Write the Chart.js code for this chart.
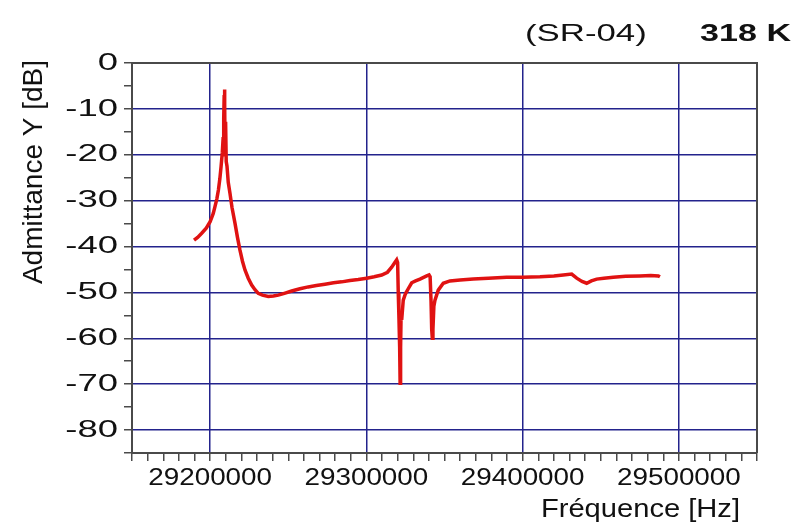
<!DOCTYPE html>
<html><head><meta charset="utf-8">
<script src="https://cdn.jsdelivr.net/npm/chart.js@4.4.1/dist/chart.umd.min.js"></script>
<style>html,body{margin:0;padding:0;background:#fff;}</style>
</head><body>
<canvas id="c" width="800" height="527"></canvas>
<script>
// ---- data ----
const frequencyHz = [
 29189700,29192000,29194600,29197500,29200000,29202000,29203100,29204300,29205300,29206200,
 29207000,29207800,29208300,29208700,29209000,29209200,29209400,29209600,29209800,29210000,
 29210300,29210800,29211600,29212700,29214000,29215900,29217500,29219100,29220700,29222300,
 29224400,29226600,29228700,29230800,29233500,29237200,29240500,29243600,29247500,29252200,
 29257500,29262800,29268000,29273500,29279000,29284200,29289500,29294800,29300200,29305000,
 29309800,29313500,29316200,29318000,29319400,29320000,29320400,29320800,29321300,29321600,
 29321900,29322200,29322600,29323600,29325000,29326800,29329000,29331500,29334300,29338600,
 29340100,29340800,29341400,29341800,29342200,29342600,29343200,29343900,29346000,29349200,
 29353500,29360000,29368400,29378000,29389800,29400000,29411100,29420000,29426000,29431400,
 29434600,29438000,29441000,29444000,29447400,29452000,29458000,29466000,29475100,29482000,
 29486800,29487900
];
const admittanceDb = [
 -38.6,-38.0,-37.1,-36.0,-34.6,-32.8,-31.3,-29.6,-27.7,-25.3,
 -22.6,-19.5,-16.5,-12.0,-7.0,-5.8,-9.0,-20.0,-13.5,-12.8,
 -21.5,-22.5,-26.0,-28.4,-31.5,-34.9,-38.0,-40.8,-43.2,-45.1,
 -46.9,-48.4,-49.4,-50.2,-50.6,-50.9,-50.8,-50.6,-50.2,-49.7,
 -49.2,-48.8,-48.5,-48.2,-47.9,-47.7,-47.4,-47.2,-46.9,-46.6,
 -46.2,-45.6,-44.5,-43.6,-42.9,-43.5,-50.0,-55.0,-62.0,-69.8,
 -62.0,-55.0,-56.0,-51.7,-50.3,-49.2,-47.9,-47.5,-47.1,-46.4,
 -46.2,-46.6,-52.0,-58.0,-60.0,-58.0,-53.0,-51.7,-49.5,-48.0,
 -47.5,-47.3,-47.1,-46.9,-46.7,-46.7,-46.6,-46.4,-46.2,-46.0,
 -46.9,-47.6,-48.0,-47.5,-47.1,-46.9,-46.7,-46.5,-46.4,-46.3,
 -46.4,-46.6
];
const xTickLabels = [29200000, 29300000, 29400000, 29500000];
const yTickLabels = [0, -10, -20, -30, -40, -50, -60, -70, -80];
const sampleLabel = '(SR-04)';
const temperatureLabel = '318 K';
const xTitle = 'Fréquence [Hz]';
const yTitle = 'Admittance Y [dB]';

// ---- styling ----
const FONT = '"Liberation Sans", Arial, sans-serif';
const GRID = '#23238c';
const AXIS = '#4a4a4a';
const LINE = '#e01212';

const points = frequencyHz.map((f, i) => ({x: f, y: admittanceDb[i]}));

// the reference lettering is drawn horizontally wide; widen tick labels around their anchor
function widenLabels(scale, sx) {
  if (scale._widened) return;
  scale._widened = true;
  const orig = scale.drawLabels;
  scale.drawLabels = function (area) {
    const ctx = this.ctx;
    const fill = ctx.fillText;
    ctx.fillText = function (t, x, y, mw) {
      this.save();
      this.translate(x, y);
      this.scale(sx, 1);
      if (mw === undefined || mw === null) fill.call(this, t, 0, 0);
      else fill.call(this, t, 0, 0, mw / sx);
      this.restore();
    };
    try { orig.call(this, area); } finally { delete ctx.fillText; }
  };
}

function wideText(ctx, text, x, y, sx) {
  ctx.save();
  ctx.translate(x, y);
  ctx.scale(sx, 1);
  ctx.fillText(text, 0, 0);
  ctx.restore();
}

const decorations = {
  id: 'decorations',
  beforeDatasetsDraw(chart) {
    const {ctx, chartArea: a} = chart;
    ctx.save();
    ctx.strokeStyle = AXIS;
    ctx.lineWidth = 2;
    ctx.beginPath();
    ctx.moveTo(a.left, a.top); ctx.lineTo(a.right, a.top); ctx.lineTo(a.right, a.bottom);
    ctx.stroke();
    ctx.restore();
  },
  afterDraw(chart) {
    const {ctx} = chart;
    ctx.save();
    ctx.fillStyle = '#111';
    ctx.textBaseline = 'middle';
    ctx.textAlign = 'left';
    ctx.font = '24px ' + FONT;
    wideText(ctx, sampleLabel, 525, 34, 1.45);
    ctx.font = 'bold 24px ' + FONT;
    ctx.textAlign = 'right';
    wideText(ctx, temperatureLabel, 791, 34, 1.42);
    // x title
    ctx.font = '26px ' + FONT;
    ctx.textAlign = 'right';
    ctx.textBaseline = 'alphabetic';
    wideText(ctx, xTitle, 740, 517, 1.12);
    // y title
    ctx.translate(34, 172);
    ctx.rotate(-Math.PI / 2);
    ctx.textAlign = 'center';
    ctx.textBaseline = 'middle';
    ctx.font = '28px ' + FONT;
    ctx.fillText(yTitle, 0, 0);
    ctx.restore();
  }
};

new Chart(document.getElementById('c'), {
  type: 'line',
  data: {
    datasets: [{
      data: points,
      borderColor: LINE,
      borderWidth: 3.5,
      pointRadius: 0,
      tension: 0,
      fill: false
    }]
  },
  options: {
    responsive: false,
    devicePixelRatio: 1,
    animation: false,
    events: [],
    layout: {padding: {top: 63, right: 43, left: 0, bottom: 0}},
    plugins: {legend: {display: false}, tooltip: {enabled: false}, title: {display: false}},
    scales: {
      x: {
        type: 'linear',
        min: 29150000,
        max: 29550000,
        afterFit: s => { s.height = 74; widenLabels(s, 1.16); },
        ticks: {
          stepSize: 10000,
          autoSkip: false,
          maxTicksLimit: 1000,
          maxRotation: 0,
          minRotation: 0,
          padding: 3,
          color: '#111',
          font: {family: FONT, size: 24},
          callback: v => xTickLabels.includes(Math.round(v)) ? String(Math.round(v)) : ''
        },
        grid: {
          color: c => (c.tick && xTickLabels.includes(Math.round(c.tick.value))) ? GRID : 'rgba(0,0,0,0)',
          lineWidth: 1.5,
          tickColor: AXIS,
          tickLength: 8,
          drawTicks: true
        },
        border: {display: true, color: AXIS, width: 2}
      },
      y: {
        type: 'linear',
        min: -85,
        max: 0,
        afterFit: s => { s.width = 132; widenLabels(s, 1.52); },
        ticks: {
          stepSize: 5,
          autoSkip: false,
          maxTicksLimit: 1000,
          padding: 6,
          color: '#111',
          font: {family: FONT, size: 24},
          callback: v => yTickLabels.includes(Math.round(v)) ? String(Math.round(v)) : ''
        },
        grid: {
          color: c => {
            if (!c.tick) return 'rgba(0,0,0,0)';
            const v = Math.round(c.tick.value);
            if (v === 0) return AXIS;
            return yTickLabels.includes(v) ? GRID : 'rgba(0,0,0,0)';
          },
          lineWidth: 1.5,
          tickColor: AXIS,
          tickLength: 8,
          drawTicks: true
        },
        border: {display: true, color: AXIS, width: 2}
      }
    }
  },
  plugins: [decorations]
});
</script>
</body></html>
